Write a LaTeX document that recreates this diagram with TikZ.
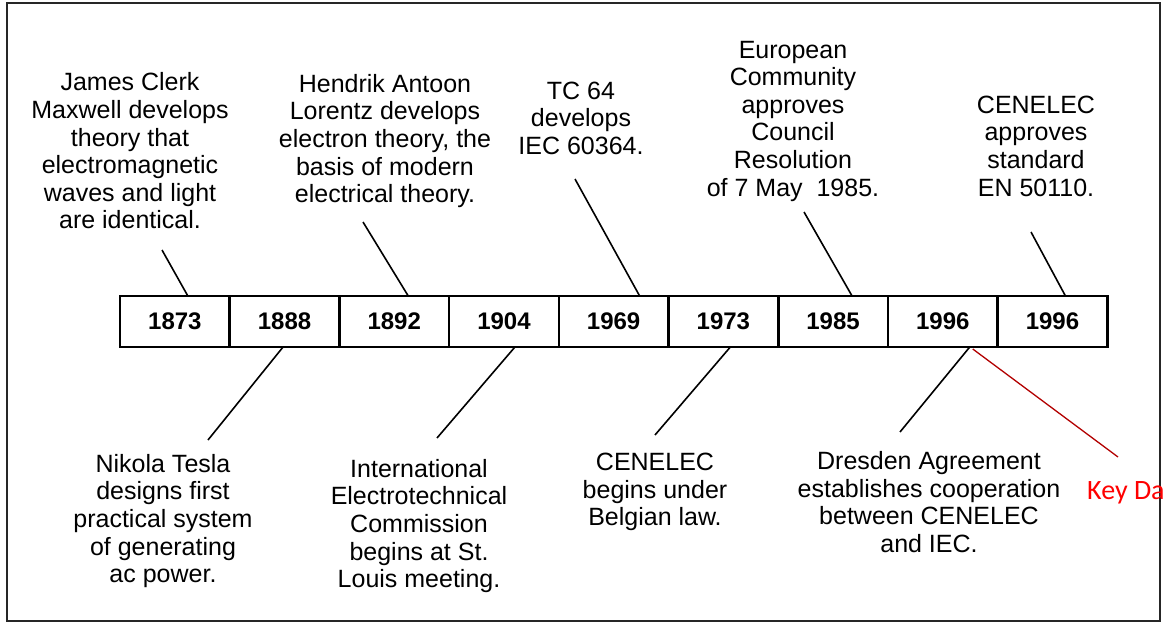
\documentclass[tikz,border=0pt]{standalone}
\usepackage{fontspec}
\setmainfont{Liberation Sans}
\newfontfamily\keyfont{Carlito}
\usetikzlibrary{positioning}

\begin{document}
\begin{tikzpicture}[x=1pt,y=-1pt,
    year/.style={draw,line width=2.6pt,minimum width=109.7pt,minimum height=51pt,
      outer sep=0pt,inner sep=0pt,font=\fontsize{24}{28}\selectfont\bfseries},
    note/.style={align=center,inner sep=0pt,font=\fontsize{25}{27.6}\selectfont},
    link/.style={line width=1.6pt}]
      \useasboundingbox (0,0) rectangle (1165,624);
      \draw[line width=2pt,black!85] (7,3) rectangle (1160,621);
      % year boxes
      \node[year] (y1873) at (174.85,321.5) {1873};
      \node[year,right=0pt of y1873] (y1888) {1888};
      \node[year,right=0pt of y1888] (y1892) {1892};
      \node[year,right=0pt of y1892] (y1904) {1904};
      \node[year,right=0pt of y1904] (y1969) {1969};
      \node[year,right=0pt of y1969] (y1973) {1973};
      \node[year,right=0pt of y1973] (y1985) {1985};
      \node[year,right=0pt of y1985] (y1996a) {1996};
      \node[year,right=0pt of y1996a] (y1996b) {1996};
      % events above
      \node[note] (t1873) at (130,151) {James Clerk\\Maxwell develops\\theory that\\electromagnetic\\waves and light\\are identical.};
      \node[note] (t1892) at (385,141) {Hendrik Antoon\\Lorentz develops\\electron theory, the\\basis of modern\\electrical theory.};
      \node[note] (t1969) at (581,118) {TC 64\\develops\\IEC 60364.};
      \node[note] (t1985) at (793,121) {European\\Community\\approves\\Council\\Resolution\\of 7 May\ \ 1985.};
      \node[note] (t1996b) at (1036,146) {CENELEC\\approves\\standard\\EN 50110.};
      % events below
      \node[note] (t1888) at (163,521) {Nikola Tesla\\designs first\\practical system\\of generating\\ac power.};
      \node[note] (t1904) at (419,526) {International\\Electrotechnical\\Commission\\begins at St.\\Louis meeting.};
      \node[note] (t1973) at (655,492) {CENELEC\\begins under\\Belgian law.};
      \node[note] (t1996a) at (929,502) {Dresden Agreement\\establishes cooperation\\between CENELEC\\and IEC.};
      \node[anchor=west,inner sep=0pt,text=red,font=\keyfont\fontsize{28}{32}\selectfont] (key) at (1087,493) {Key Da};
      % connectors
      \coordinate (e1873) at (162,250);
      \coordinate (e1888) at (208,440);
      \coordinate (e1892) at (363,222);
      \coordinate (e1904) at (437,438);
      \coordinate (e1969) at (575,179);
      \coordinate (e1973) at (655,435);
      \coordinate (e1985) at (804,212);
      \coordinate (e1996a) at (900,432);
      \coordinate (e1996b) at (1031,232);
      \coordinate (ekey) at (1118,457);
      \draw[link] ([xshift=13pt]y1873.north) -- (e1873);
      \draw[link] ([xshift=-1.5pt]y1888.south) -- (e1888);
      \draw[link] ([xshift=14pt]y1892.north) -- (e1892);
      \draw[link] ([xshift=11pt]y1904.south) -- (e1904);
      \draw[link] ([xshift=26pt]y1969.north) -- (e1969);
      \draw[link] ([xshift=7pt]y1973.south) -- (e1973);
      \draw[link] ([xshift=19pt]y1985.north) -- (e1985);
      \draw[link] ([xshift=27pt]y1996a.south) -- (e1996a);
      \draw[link] ([xshift=13pt]y1996b.north) -- (e1996b);
      \draw[line width=1.3pt,red!70!black] ([xshift=30pt,yshift=-2pt]y1996a.south) -- (ekey);
\end{tikzpicture}
\end{document}
